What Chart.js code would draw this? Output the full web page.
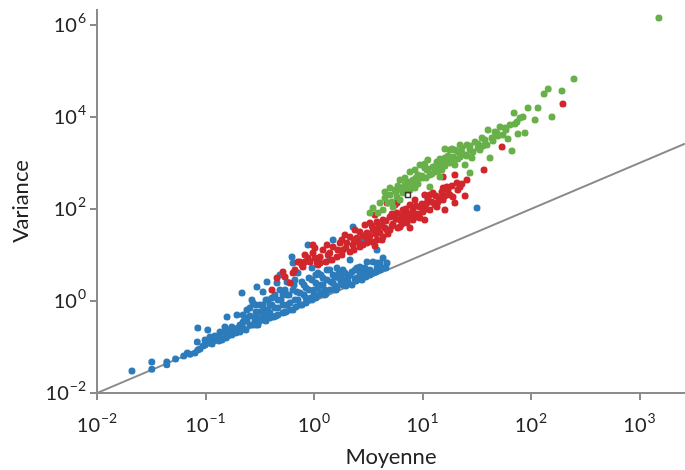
<!DOCTYPE html>
<html>
<head>
<meta charset="utf-8">
<script src="https://cdn.jsdelivr.net/npm/chart.js@4"></script>
<style>
  body { margin: 0; background: #fff; }
  canvas { display: block; }
</style>
</head>
<body>
<canvas id="meanVarChart" width="685" height="470"></canvas>
<script>
// Mean / variance values (log-log)
const blueMean = [
  0.021,0.032,0.032,0.044,0.044,0.053,0.063,0.068,0.072,0.080,
  0.084,0.085,0.085,0.089,0.095,0.099,0.105,0.110,0.115,0.122,
  0.128,0.133,0.136,0.142,0.151,0.158,0.161,0.175,0.179,0.195,
  0.199,0.208,0.217,0.222,0.231,0.236,0.241,0.257,0.268,0.274,
  0.286,0.292,0.298,0.305,0.318,0.332,0.339,0.346,0.361,0.369,
  0.377,0.393,0.41,0.428,0.437,0.456,0.466,0.486,0.497,0.518,
  0.541,0.564,0.589,0.601,0.627,0.641,0.655,0.668,0.697,0.712,
  0.743,0.775,0.809,0.844,0.881,0.90,0.938,0.959,1.00,1.04,
  1.09,1.11,1.16,1.21,1.26,1.32,1.40,1.44,1.50,1.56,
  1.63,1.70,1.77,1.85,1.93,2.06,2.15,2.24,2.39,2.49,
  2.65,2.77,2.95,3.08,3.28,3.50,3.81,4.06,4.33,4.71,
  3.81,2.29,2.83,1.50,31.8,0.292,0.447,0.552,0.682,0.844,
  1.04,1.29,1.60,1.97,2.44,3.01,3.73,4.61,0.191,0.155,
  0.099,0.110,0.122,0.136,0.151,0.161,0.175,0.195,0.208,0.222,
  0.241,0.257,0.274,0.292,0.318,0.318,0.339,0.361,0.377,0.393,
  0.41,0.437,0.466,0.466,0.486,0.518,0.541,0.564,0.601,0.641,
  0.641,0.668,0.712,0.743,0.775,0.809,0.844,0.90,0.959,0.959,
  1.00,1.04,1.09,1.16,1.16,1.21,1.26,1.32,1.40,1.40,
  1.50,1.56,1.63,1.70,1.77,1.85,1.93,2.06,2.15,2.24,
  2.39,2.49,2.65,2.77,2.95,3.08,3.28,3.50,3.81,4.06,
  4.33,0.564,0.518,0.393,0.361,0.292,0.222,0.257
];
const blueVar = [
  0.030,0.047,0.033,0.047,0.041,0.055,0.064,0.074,0.070,0.074,
  0.128,0.259,0.086,0.090,0.105,0.110,0.234,0.165,0.116,0.142,
  0.165,0.135,0.212,0.142,0.272,0.449,0.173,0.182,0.234,0.496,
  0.259,0.212,1.49,0.349,0.427,0.234,0.637,0.301,1.05,0.905,
  0.386,0.577,2.01,0.301,0.819,0.427,1.57,0.637,0.367,2.59,
  1.05,0.548,0.819,0.449,1.35,2.46,0.705,3.67,1.05,0.548,
  1.73,0.819,1.35,0.637,9.05,6.70,2.23,1.05,1.57,4.06,
  0.819,2.59,1.35,1.92,16.5,3.16,1.16,5.21,1.73,2.46,
  4.06,1.35,2.23,3.16,1.73,4.72,7.79,2.59,3.67,2.12,
  5.21,3.16,2.46,4.72,2.86,3.32,7.79,4.27,3.01,5.21,
  5.48,3.67,4.27,7.05,3.67,7.05,6.70,4.72,8.61,6.70,
  12.9,40.6,21.2,21.2,105,0.301,0.472,0.577,0.741,0.905,
  1.16,1.42,1.73,2.12,2.72,3.32,4.27,5.21,0.201,0.157,
  0.142,0.128,0.173,0.157,0.201,0.234,0.272,0.234,0.301,0.259,
  0.367,0.472,0.301,0.449,0.386,0.577,0.819,0.496,0.637,0.427,
  1.16,0.705,1.05,0.496,1.73,0.819,0.577,1.35,0.905,0.637,
  1.73,2.86,1.05,1.49,0.819,2.23,1.16,1.73,1.05,2.86,
  1.35,3.67,1.92,1.49,3.67,2.23,1.35,2.86,1.73,4.72,
  2.46,3.32,1.92,4.27,3.32,2.23,4.06,2.59,3.67,2.23,
  4.72,3.16,4.06,2.86,5.21,3.67,4.72,4.06,5.21,6.70,
  5.21,2.59,1.35,0.819,1.05,0.819,0.496,0.705
];

const redMean = [
  0.41,0.456,0.601,0.541,0.641,0.668,0.743,0.792,0.881,0.919,
  0.979,1.07,1.14,1.21,1.29,1.40,1.50,1.63,1.74,1.85,
  2.01,2.15,2.15,2.29,2.49,2.65,2.65,3.08,3.08,3.28,
  3.28,3.50,3.65,3.81,3.81,4.06,4.33,4.33,4.51,4.71,
  5.02,5.02,5.35,5.82,6.21,6.21,6.61,6.90,7.20,7.20,
  7.67,8.18,8.18,8.90,9.48,9.48,10.1,11.0,11.7,11.7,
  12.5,13.0,13.6,14.5,15.5,15.5,16.8,17.9,19.1,19.9,
  20.8,22.2,25.7,15.5,36.9,54.1,197,4.71,5.82,1.14,
  0.775,0.979,1.32,1.93,2.39,2.95,3.65,5.58,8.53,10.5,
  0.826,0.826,1.02,1.02,1.09,1.35,1.47,1.66,1.81,1.81,
  1.97,2.34,2.34,2.54,2.83,2.83,3.15,3.43,3.43,3.73,
  3.89,4.24,4.24,4.61,4.81,5.24,5.24,5.70,5.94,6.47,
  6.47,7.05,7.35,8.0,8.71,9.09,9.9,10.8,11.2,12.2,
  13.3,13.9,15.1,16.1,17.2,18.7,21.2,23.1,0.712,0.518,
  16.1,19.9,24.7,10.5,7.67
];
const redVar = [
  1.73,3.16,2.46,3.32,4.06,4.72,7.05,5.48,8.61,7.05,
  11.0,6.70,9.05,12.9,7.05,11.0,14.9,9.05,18.2,12.9,
  18.2,24.6,11.6,16.5,23.4,31.6,14.9,30.1,18.2,49.6,
  25.9,34.9,15.7,52.1,21.2,30.1,57.7,24.6,38.6,34.9,
  67.0,34.9,47.2,81.8,57.7,40.6,95.1,63.7,81.8,49.6,
  122,95.1,57.7,67.0,110,63.7,86.1,135,95.1,201,
  223,122,110,173,157,286,301,201,182,548,
  367,301,427,497,705,2230,19200,135,135,6.70,
  6.07,16.5,16.5,27.2,34.9,44.9,74.1,122,157,201,
  7.05,10.0,8.61,14.2,6.07,10.0,7.79,12.9,10.0,21.2,
  14.2,21.2,12.9,19.2,25.9,16.5,22.3,42.7,19.2,28.6,
  38.6,42.7,21.2,54.8,28.6,42.7,77.9,60.7,38.6,70.5,
  47.2,100,60.7,77.9,116,77.9,128,100,165,142,
  192,142,234,192,259,316,259,349,7.05,4.27,
  95.1,135,192,57.7,38.6
];

const greenMean = [
  3.28,3.50,4.06,4.33,4.51,4.81,5.02,5.35,5.58,5.82,
  6.21,6.21,6.61,6.90,7.20,7.67,7.67,8.18,8.53,8.90,
  9.09,9.48,10.1,10.5,11.0,11.7,11.7,12.5,13.0,13.6,
  14.5,14.5,15.1,16.1,16.8,17.9,19.1,19.9,21.2,22.2,
  23.1,24.7,25.7,27.4,27.4,28.6,29.2,30.5,32.5,33.9,
  35.4,37.7,39.3,40.2,41.9,43.7,46.6,48.6,51.8,55.2,
  58.9,64.1,66.8,69.8,74.3,79.2,84.4,88.1,93.9,132,
  144,156,193,249,1510,3.89,17.9,22.2,24.7,19.9,
  5.24,5.70,5.94,6.47,7.05,7.35,8.0,8.71,9.09,9.9,
  10.8,11.2,12.2,13.3,13.9,15.1,16.1,17.2,18.7,21.2,
  23.1,25.7,27.4,32.5,36.1,44.7,49.6,57.7,61.4,71.3,
  75.9,109,116,18.7,14.5,10.5,16.1,
  5.02,6.21,7.67,9.48,11.2,6.90,4.51,8.53
];
const greenVar = [
  81.8,105,135,95.1,173,135,201,110,259,182,
  157,286,223,333,367,386,259,427,286,367,
  548,472,472,778,705,301,548,818,637,1050,
  497,905,705,1290,1160,1000,1350,905,1730,1350,
  2120,1490,2460,1920,607,1290,1730,2860,2120,1920,
  3490,3160,2460,5210,1290,3490,4720,4490,6070,4060,
  5210,6700,1820,12200,7790,9510,10000,4490,15700,31600,
  40600,10000,36700,67000,1420000,81.8,1920,2460,905,1920,
  142,234,316,259,349,259,316,472,349,521,
  472,741,577,861,670,1100,861,1420,1100,1220,
  1650,1420,2340,2590,2340,3010,3860,5770,3320,7050,
  4270,8610,15700,2010,1220,951,2010,
  286,427,637,905,1160,472,234,705
];

// small dark marker inside the green cloud
const markMean = [7.35];
const markVar = [201];

// variance = mean reference line
const diagMean = [0.01, 2625];
const diagVar = [0.01, 2625];

const xTicks = [0.01, 0.1, 1, 10, 100, 1000];
const yTicks = [0.01, 1, 100, 10000, 1000000];

const axisGrey = '#8c8c8c';
const textColor = '#222';
const fontFamily = 'Lato, "Open Sans", sans-serif';

function toPoints(xs, ys) {
    return xs.map((v, i) => ({ x: v, y: ys[i] }));
}

// draws "10" with a raised exponent
function drawPower(ctx, value, x, baseline, align) {
    const exp = Math.round(Math.log10(value));
    const expText = exp < 0 ? '\u2212' + (-exp) : String(exp);
    ctx.font = '20px ' + fontFamily;
    const wBase = ctx.measureText('10').width;
    ctx.font = '14px ' + fontFamily;
    const wExp = ctx.measureText(expText).width;
    const total = wBase + 1 + wExp;
    const left = align === 'center' ? x - total / 2 : x - total;
    ctx.textAlign = 'left';
    ctx.font = '20px ' + fontFamily;
    ctx.fillText('10', left, baseline);
    ctx.font = '14px ' + fontFamily;
    ctx.fillText(expText, left + wBase + 1, baseline - 9);
}

const powerLabels = {
    id: 'powerLabels',
    afterDraw(chart) {
        const ctx = chart.ctx;
        const xs = chart.scales.x;
        const ys = chart.scales.y;
        ctx.save();
        ctx.fillStyle = textColor;
        ctx.textBaseline = 'alphabetic';
        xs.ticks.forEach(t => {
            drawPower(ctx, t.value, xs.getPixelForValue(t.value), xs.top + 39, 'center');
        });
        ys.ticks.forEach(t => {
            drawPower(ctx, t.value, ys.right - 11, ys.getPixelForValue(t.value) + 7, 'right');
        });
        ctx.restore();
    }
};

const ctx = document.getElementById('meanVarChart');

new Chart(ctx, {
    type: 'scatter',
    data: {
        datasets: [
            {
                label: 'marque',
                data: toPoints(markMean, markVar),
                pointStyle: 'rect',
                pointRadius: 3.5,
                backgroundColor: 'rgba(0,0,0,0)',
                borderColor: '#3a3a2a',
                borderWidth: 1.5,
                order: 0
            },
            {
                label: 'vert',
                data: toPoints(greenMean, greenVar),
                backgroundColor: '#68b04a',
                borderWidth: 0,
                pointRadius: 3.5,
                order: 1
            },
            {
                label: 'rouge',
                data: toPoints(redMean, redVar),
                backgroundColor: '#d2262d',
                borderWidth: 0,
                pointRadius: 3.5,
                order: 2
            },
            {
                label: 'bleu',
                data: toPoints(blueMean, blueVar),
                backgroundColor: '#2c7bbb',
                borderWidth: 0,
                pointRadius: 3.5,
                order: 3
            },
            {
                label: 'y = x',
                data: toPoints(diagMean, diagVar),
                showLine: true,
                borderColor: '#8a8a8a',
                borderWidth: 2,
                pointRadius: 0,
                order: 4
            }
        ]
    },
    options: {
        responsive: false,
        animation: false,
        layout: {
            autoPadding: false,
            padding: { top: 10, right: 0, bottom: 0, left: 0 }
        },
        plugins: {
            legend: { display: false },
            tooltip: { enabled: false }
        },
        scales: {
            x: {
                type: 'logarithmic',
                min: 0.01,
                max: 2625,
                afterBuildTicks: scale => { scale.ticks = xTicks.map(v => ({ value: v })); },
                afterFit: scale => { scale.height = 77; },
                grid: {
                    drawOnChartArea: false,
                    drawTicks: true,
                    tickLength: 7,
                    color: axisGrey,
                    lineWidth: 2
                },
                border: { color: axisGrey, width: 2 },
                ticks: { display: false },
                title: {
                    display: true,
                    text: 'Moyenne',
                    color: textColor,
                    font: { size: 22, family: fontFamily },
                    padding: { top: 0, bottom: 0 }
                }
            },
            y: {
                type: 'logarithmic',
                min: 0.01,
                max: 2.12e6,
                afterBuildTicks: scale => { scale.ticks = yTicks.map(v => ({ value: v })); },
                afterFit: scale => { scale.width = 97; },
                grid: {
                    drawOnChartArea: false,
                    drawTicks: true,
                    tickLength: 7,
                    color: axisGrey,
                    lineWidth: 2
                },
                border: { color: axisGrey, width: 2 },
                ticks: { display: false },
                title: {
                    display: true,
                    text: 'Variance',
                    color: textColor,
                    font: { size: 22, family: fontFamily },
                    padding: { top: 8, bottom: 0 }
                }
            }
        }
    },
    plugins: [powerLabels]
});
</script>
</body>
</html>
